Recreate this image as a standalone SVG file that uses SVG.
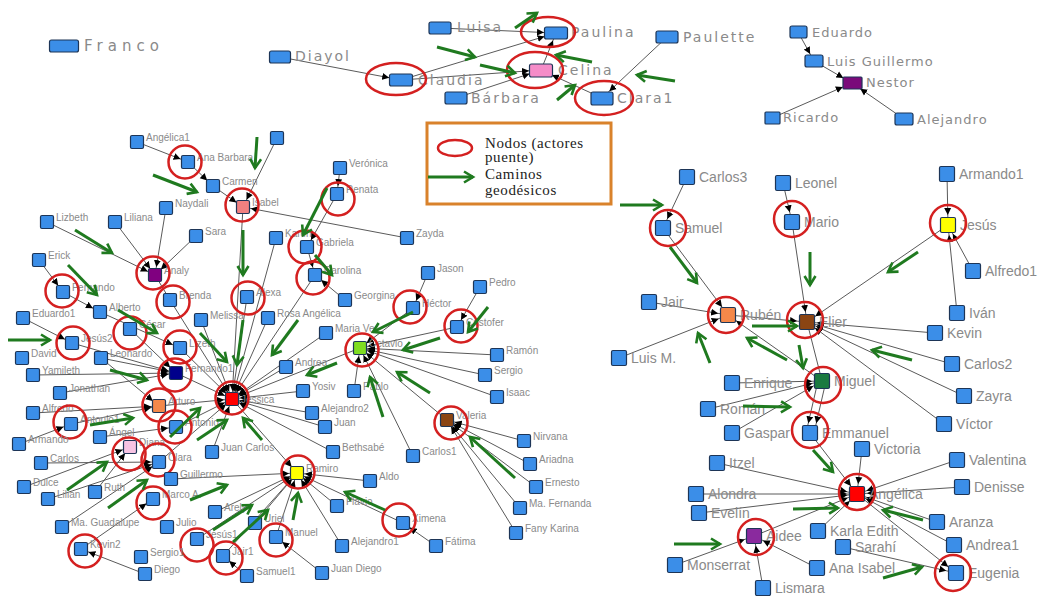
<svg xmlns="http://www.w3.org/2000/svg" width="1040" height="596" viewBox="0 0 1040 596">
<style>
.e{stroke:#5a5a5a;stroke-width:1;fill:none}
.e8{marker-end:url(#a8)}
.e10{marker-end:url(#a10)}
.e12{marker-end:url(#a12)}
.g{stroke:#1f7a1f;stroke-width:3;fill:none;marker-end:url(#gh)}
.b{fill:#3b8ee8;stroke:#1d3557;stroke-width:1.2}
.c{fill:none;stroke:#d42020;stroke-width:2.5}
.l{font-family:"Liberation Sans",Arial,sans-serif;font-size:10px;fill:#8a8a8a}
.r{font-family:"Liberation Sans",Arial,sans-serif;font-size:14px;fill:#8a8a8a}
.t{font-family:"DejaVu Sans",Verdana,sans-serif;font-size:14px;fill:#8a8a8a;letter-spacing:2px}
.t2{font-family:"DejaVu Sans",Verdana,sans-serif;font-size:13px;fill:#8a8a8a;letter-spacing:1px}
.lg{font-family:"Liberation Serif","Times New Roman",serif;font-size:15px;fill:#222;letter-spacing:0.6px}
</style>
<defs>
<marker id="a8" viewBox="0 0 16 8" refX="15" refY="4" markerWidth="16" markerHeight="8" orient="auto" markerUnits="userSpaceOnUse"><path d="M0,0.5 L7,4 L0,7.5z" fill="#000"/></marker>
<marker id="a10" viewBox="0 0 18 8" refX="17" refY="4" markerWidth="18" markerHeight="8" orient="auto" markerUnits="userSpaceOnUse"><path d="M0,0.5 L7,4 L0,7.5z" fill="#000"/></marker>
<marker id="a12" viewBox="0 0 20 8" refX="19" refY="4" markerWidth="20" markerHeight="8" orient="auto" markerUnits="userSpaceOnUse"><path d="M0,0.5 L7,4 L0,7.5z" fill="#000"/></marker>
<marker id="gh" viewBox="0 0 14 14" refX="11" refY="7" markerWidth="14" markerHeight="14" orient="auto" markerUnits="userSpaceOnUse"><path d="M2,1.5 L11,7 L2,12.5" fill="none" stroke="#1f7a1f" stroke-width="2.6"/></marker>
</defs>
<rect width="1040" height="596" fill="#fff"/>

<g id="connectors">
<!-- top -->
<line class="e e12" x1="280" y1="57" x2="401" y2="80"/>
<line class="e e12" x1="440" y1="28" x2="556" y2="33"/>
<line class="e e12" x1="401" y1="80" x2="556" y2="33"/>
<line class="e e12" x1="401" y1="80" x2="541" y2="70"/>
<line class="e e12" x1="456" y1="98" x2="541" y2="70"/>
<line class="e e8" x1="541" y1="70" x2="556" y2="33"/>
<line class="e e12" x1="602" y1="98" x2="541" y2="70"/>
<line class="e e10" x1="667" y1="37" x2="602" y2="98"/>
<line class="e e8" x1="798" y1="32" x2="814" y2="61"/>
<line class="e e10" x1="814" y1="61" x2="852" y2="83"/>
<line class="e e10" x1="772" y1="118" x2="852" y2="83"/>
<line class="e e10" x1="904" y1="119" x2="852" y2="83"/>
<!-- right cluster -->
<line class="e e10" x1="687" y1="177" x2="663" y2="228"/>
<line class="e e10" x1="663" y1="228" x2="728" y2="315"/>
<line class="e e10" x1="649" y1="302" x2="728" y2="315"/>
<line class="e e10" x1="619" y1="358" x2="728" y2="315"/>
<line class="e e10" x1="822" y1="381" x2="728" y2="315"/>
<line class="e e10" x1="728" y1="315" x2="807" y2="322"/>
<line class="e e10" x1="783" y1="183" x2="792" y2="222"/>
<line class="e e10" x1="792" y1="222" x2="807" y2="322"/>
<line class="e e10" x1="948" y1="225" x2="807" y2="322"/>
<line class="e e10" x1="947" y1="174" x2="948" y2="225"/>
<line class="e e10" x1="973" y1="271" x2="948" y2="225"/>
<line class="e e10" x1="957" y1="313" x2="948" y2="225"/>
<line class="e e10" x1="935" y1="333" x2="807" y2="322"/>
<line class="e e10" x1="952" y1="364" x2="807" y2="322"/>
<line class="e e10" x1="964" y1="396" x2="807" y2="322"/>
<line class="e e10" x1="944" y1="424" x2="807" y2="322"/>
<line class="e" x1="807" y1="322" x2="822" y2="381"/>
<line class="e e10" x1="732" y1="383" x2="822" y2="381"/>
<line class="e e10" x1="708" y1="409" x2="822" y2="381"/>
<line class="e e10" x1="732" y1="433" x2="822" y2="381"/>
<line class="e e10" x1="818" y1="381" x2="806" y2="433"/>
<line class="e e10" x1="826" y1="381" x2="814" y2="433"/>
<line class="e e10" x1="810" y1="433" x2="857" y2="494"/>
<line class="e e10" x1="862" y1="449" x2="857" y2="494"/>
<line class="e e10" x1="717" y1="463" x2="857" y2="494"/>
<line class="e e10" x1="696" y1="494" x2="857" y2="494"/>
<line class="e e10" x1="699" y1="513" x2="857" y2="494"/>
<line class="e e10" x1="754" y1="536" x2="857" y2="494"/>
<line class="e e10" x1="957" y1="460" x2="857" y2="494"/>
<line class="e e10" x1="962" y1="487" x2="857" y2="494"/>
<line class="e e10" x1="937" y1="522" x2="857" y2="494"/>
<line class="e e10" x1="954" y1="545" x2="857" y2="494"/>
<line class="e e10" x1="818" y1="531" x2="857" y2="494"/>
<line class="e e10" x1="857" y1="494" x2="956" y2="573"/>
<line class="e e10" x1="843" y1="547" x2="956" y2="573"/>
<line class="e e10" x1="817" y1="568" x2="754" y2="536"/>
<line class="e e10" x1="675" y1="565" x2="754" y2="536"/>
<line class="e e10" x1="763" y1="588" x2="754" y2="536"/>
<!-- left cluster -->
<line class="e e8" x1="137" y1="142" x2="188" y2="162"/>
<line class="e e8" x1="188" y1="162" x2="213" y2="186"/>
<line class="e e8" x1="213" y1="186" x2="243" y2="207"/>
<line class="e e8" x1="277" y1="138" x2="243" y2="207"/>
<line class="e e8" x1="407" y1="238" x2="243" y2="207"/>
<line class="e e8" x1="243" y1="207" x2="232" y2="399"/>
<line class="e e8" x1="340" y1="168" x2="337" y2="194"/>
<line class="e e8" x1="337" y1="194" x2="307" y2="247"/>
<line class="e e8" x1="307" y1="247" x2="315" y2="275"/>
<line class="e e8" x1="345" y1="300" x2="315" y2="275"/>
<line class="e e8" x1="276" y1="238" x2="232" y2="399"/>
<line class="e e8" x1="315" y1="275" x2="232" y2="399"/>
<line class="e e8" x1="247" y1="297" x2="232" y2="399"/>
<line class="e e8" x1="47" y1="222" x2="155" y2="275"/>
<line class="e e8" x1="115" y1="222" x2="155" y2="275"/>
<line class="e e8" x1="166" y1="208" x2="155" y2="275"/>
<line class="e e8" x1="196" y1="236" x2="155" y2="275"/>
<line class="e" x1="155" y1="275" x2="170" y2="300"/>
<line class="e e8" x1="170" y1="300" x2="232" y2="399"/>
<line class="e e8" x1="39" y1="260" x2="63" y2="292"/>
<line class="e e8" x1="63" y1="292" x2="100" y2="312"/>
<line class="e e8" x1="100" y1="312" x2="180" y2="348"/>
<line class="e e8" x1="23" y1="318" x2="72" y2="343"/>
<line class="e e8" x1="72" y1="343" x2="176" y2="373"/>
<line class="e e8" x1="101" y1="358" x2="176" y2="373"/>
<line class="e e8" x1="33" y1="375" x2="176" y2="373"/>
<line class="e e8" x1="60" y1="393" x2="176" y2="373"/>
<line class="e e8" x1="130" y1="329" x2="176" y2="373"/>
<line class="e e8" x1="180" y1="348" x2="232" y2="399"/>
<line class="e e8" x1="201" y1="320" x2="232" y2="399"/>
<line class="e e8" x1="176" y1="373" x2="232" y2="399"/>
<line class="e e8" x1="101" y1="358" x2="159" y2="406"/>
<line class="e e8" x1="33" y1="413" x2="159" y2="406"/>
<line class="e e8" x1="19" y1="444" x2="71" y2="424"/>
<line class="e e8" x1="71" y1="424" x2="159" y2="406"/>
<line class="e e8" x1="159" y1="406" x2="232" y2="399"/>
<line class="e e8" x1="176" y1="427" x2="232" y2="399"/>
<line class="e e8" x1="100" y1="437" x2="176" y2="427"/>
<line class="e e8" x1="159" y1="462" x2="232" y2="399"/>
<line class="e e8" x1="41" y1="463" x2="159" y2="462"/>
<line class="e e8" x1="24" y1="487" x2="130" y2="447"/>
<line class="e e8" x1="95" y1="492" x2="130" y2="447"/>
<line class="e e8" x1="48" y1="499" x2="159" y2="462"/>
<line class="e e8" x1="62" y1="527" x2="159" y2="462"/>
<line class="e e8" x1="81" y1="549" x2="153" y2="499"/>
<line class="e e8" x1="145" y1="574" x2="81" y2="549"/>
<line class="e e8" x1="171" y1="479" x2="297" y2="473"/>
<line class="e e8" x1="215" y1="512" x2="297" y2="473"/>
<line class="e e8" x1="197" y1="539" x2="297" y2="473"/>
<line class="e e8" x1="223" y1="556" x2="297" y2="473"/>
<line class="e e8" x1="247" y1="576" x2="223" y2="556"/>
<line class="e e8" x1="255" y1="523" x2="297" y2="473"/>
<line class="e e8" x1="276" y1="537" x2="297" y2="473"/>
<line class="e e8" x1="322" y1="573" x2="276" y2="537"/>
<line class="e e8" x1="342" y1="546" x2="297" y2="473"/>
<line class="e e8" x1="337" y1="506" x2="297" y2="473"/>
<line class="e e8" x1="370" y1="481" x2="297" y2="473"/>
<line class="e e8" x1="403" y1="523" x2="297" y2="473"/>
<line class="e e8" x1="436" y1="546" x2="403" y2="523"/>
<line class="e e8" x1="232" y1="399" x2="297" y2="473"/>
<line class="e e8" x1="212" y1="452" x2="232" y2="399"/>
<line class="e e8" x1="333" y1="452" x2="232" y2="399"/>
<line class="e e8" x1="268" y1="318" x2="232" y2="399"/>
<line class="e e8" x1="286" y1="367" x2="232" y2="399"/>
<line class="e e8" x1="303" y1="391" x2="232" y2="399"/>
<line class="e e8" x1="312" y1="413" x2="232" y2="399"/>
<line class="e e8" x1="325" y1="427" x2="232" y2="399"/>
<line class="e e8" x1="326" y1="333" x2="232" y2="399"/>
<line class="e e8" x1="360" y1="348" x2="232" y2="399"/>
<line class="e e8" x1="413" y1="308" x2="360" y2="348"/>
<line class="e e8" x1="428" y1="273" x2="413" y2="308"/>
<line class="e e8" x1="480" y1="287" x2="457" y2="327"/>
<line class="e e8" x1="457" y1="327" x2="360" y2="348"/>
<line class="e e8" x1="497" y1="355" x2="360" y2="348"/>
<line class="e e8" x1="485" y1="375" x2="360" y2="348"/>
<line class="e e8" x1="497" y1="397" x2="360" y2="348"/>
<line class="e e8" x1="354" y1="391" x2="360" y2="348"/>
<line class="e e8" x1="413" y1="456" x2="360" y2="348"/>
<line class="e e8" x1="447" y1="420" x2="360" y2="348"/>
<line class="e e8" x1="524" y1="441" x2="447" y2="420"/>
<line class="e e8" x1="530" y1="464" x2="447" y2="420"/>
<line class="e e8" x1="536" y1="487" x2="447" y2="420"/>
<line class="e e8" x1="520" y1="508" x2="447" y2="420"/>
<line class="e e8" x1="516" y1="533" x2="447" y2="420"/>
</g>

<!-- top nodes -->
<g id="n-franco"><rect class="b" x="49.5" y="40" width="29" height="12" rx="2"/><text class="t" x="84" y="51" style="font-size:15px;letter-spacing:5px">Franco</text></g>
<g id="n-diayol"><rect class="b" x="269.5" y="51" width="21" height="12" rx="2"/><text class="t" x="295" y="61">Diayol</text></g>
<g id="n-claudia"><rect class="b" x="389.5" y="74" width="23" height="12" rx="2"/><text class="t" x="418" y="85">Claudia</text><ellipse class="c" cx="396" cy="79" rx="30" ry="16"/></g>
<g id="n-luisa"><rect class="b" x="429" y="22" width="22" height="12" rx="2"/><text class="t" x="457" y="32">Luisa</text></g>
<g id="n-paulina"><rect class="b" x="544.5" y="27" width="23" height="12" rx="2"/><text class="t" x="571" y="37">Paulina</text><ellipse class="c" cx="548" cy="32" rx="27" ry="15"/></g>
<g id="n-celina"><rect class="b" x="529.5" y="64" width="23" height="13" rx="2" style="fill:#f58cc8"/><text class="t" x="558" y="75">Celina</text><ellipse class="c" cx="535" cy="70" rx="28" ry="18"/></g>
<g id="n-barbara"><rect class="b" x="445" y="92" width="22" height="12" rx="2"/><text class="t" x="471" y="103">Bárbara</text></g>
<g id="n-clara1"><rect class="b" x="591" y="92" width="22" height="13" rx="2"/><text class="t" x="617" y="103">Clara1</text><ellipse class="c" cx="604" cy="98" rx="29" ry="17"/></g>
<g id="n-paulette"><rect class="b" x="656" y="31" width="22" height="12" rx="2"/><text class="t" x="683" y="42">Paulette</text></g>
<g id="n-eduardo"><rect class="b" x="790" y="26" width="17" height="12" rx="2"/><text class="t2" x="812" y="37">Eduardo</text></g>
<g id="n-luisguillermo"><rect class="b" x="805" y="55" width="18" height="12" rx="2"/><text class="t2" x="827" y="66">Luis Guillermo</text></g>
<g id="n-nestor"><rect class="b" x="843" y="77" width="19" height="12" rx="1" style="fill:#7a0a7a"/><text class="t2" x="866" y="87">Nestor</text></g>
<g id="n-ricardo"><rect class="b" x="765" y="112" width="15" height="12" rx="1"/><text class="t2" x="783" y="122">Ricardo</text></g>
<g id="n-alejandro"><rect class="b" x="895" y="113" width="18" height="12" rx="2"/><text class="t2" x="917" y="124">Alejandro</text></g>

<!-- legend -->
<g id="legend">
<rect x="427" y="123" width="184" height="81" fill="#fff" stroke="#d9822b" stroke-width="3"/>
<ellipse cx="455" cy="148" rx="17" ry="8" fill="none" stroke="#d42020" stroke-width="2.5"/>
<line class="g" x1="428" y1="177" x2="473" y2="177"/>
<text class="lg" x="485" y="148">Nodos (actores</text>
<text class="lg" x="485" y="162">puente)</text>
<text class="lg" x="485" y="179">Caminos</text>
<text class="lg" x="485" y="195">geodésicos</text>
</g>

<!-- right cluster nodes -->
<g id="n-carlos3"><rect class="b" x="679.5" y="169.5" width="15" height="15" rx="1.5"/><text class="r" x="699" y="182">Carlos3</text></g>
<g id="n-samuel"><rect class="b" x="655.5" y="220.5" width="15" height="15" rx="1.5"/><text class="r" x="675" y="233">Samuel</text><circle class="c" cx="668" cy="228" r="18"/></g>
<g id="n-leonel"><rect class="b" x="775.5" y="175.5" width="15" height="15" rx="1.5"/><text class="r" x="795" y="188">Leonel</text></g>
<g id="n-mario"><rect class="b" x="784.5" y="214.5" width="15" height="15" rx="1.5"/><text class="r" x="804" y="227">Mario</text><circle class="c" cx="792" cy="219" r="18"/></g>
<g id="n-armando1"><rect class="b" x="939.5" y="166.5" width="15" height="15" rx="1.5"/><text class="r" x="959" y="179">Armando1</text></g>
<g id="n-jesus"><rect class="b" x="940.5" y="217.5" width="15" height="15" rx="1.5" style="fill:#ffff00"/><text class="r" x="960" y="230">Jesús</text><circle class="c" cx="948" cy="223" r="18"/></g>
<g id="n-alfredo1"><rect class="b" x="965.5" y="263.5" width="15" height="15" rx="1.5"/><text class="r" x="985" y="276">Alfredo1</text></g>
<g id="n-ivan"><rect class="b" x="949.5" y="305.5" width="15" height="15" rx="1.5"/><text class="r" x="969" y="318">Iván</text></g>
<g id="n-kevin"><rect class="b" x="927.5" y="325.5" width="15" height="15" rx="1.5"/><text class="r" x="947" y="338">Kevin</text></g>
<g id="n-carlos2"><rect class="b" x="944.5" y="356.5" width="15" height="15" rx="1.5"/><text class="r" x="964" y="369">Carlos2</text></g>
<g id="n-jair"><rect class="b" x="641.5" y="294.5" width="15" height="15" rx="1.5"/><text class="r" x="661" y="307">Jair</text></g>
<g id="n-ruben"><rect class="b" x="720.5" y="307.5" width="15" height="15" rx="1.5" style="fill:#f4884a"/><text class="r" x="740" y="320">Rubén</text><circle class="c" cx="726" cy="315" r="18"/></g>
<g id="n-luism"><rect class="b" x="611.5" y="350.5" width="15" height="15" rx="1.5"/><text class="r" x="631" y="363">Luis M.</text></g>
<g id="n-elier"><rect class="b" x="799.5" y="314.5" width="15" height="15" rx="1.5" style="fill:#8b4513"/><text class="r" x="819" y="327">Elier</text><circle class="c" cx="805" cy="320" r="18"/></g>
<g id="n-enrique"><rect class="b" x="724.5" y="375.5" width="15" height="15" rx="1.5"/><text class="r" x="744" y="388">Enrique</text></g>
<g id="n-miguel"><rect class="b" x="814.5" y="373.5" width="15" height="15" rx="1.5" style="fill:#1a7a40"/><text class="r" x="834" y="386">Miguel</text><circle class="c" cx="823" cy="385" r="18"/></g>
<g id="n-zayra"><rect class="b" x="956.5" y="388.5" width="15" height="15" rx="1.5"/><text class="r" x="976" y="401">Zayra</text></g>
<g id="n-roman"><rect class="b" x="700.5" y="401.5" width="15" height="15" rx="1.5"/><text class="r" x="720" y="414">Román</text></g>
<g id="n-victor"><rect class="b" x="936.5" y="416.5" width="15" height="15" rx="1.5"/><text class="r" x="956" y="429">Víctor</text></g>
<g id="n-gaspar"><rect class="b" x="724.5" y="425.5" width="15" height="15" rx="1.5"/><text class="r" x="744" y="438">Gaspar</text></g>
<g id="n-emmanuel"><rect class="b" x="802.5" y="425.5" width="15" height="15" rx="1.5"/><text class="r" x="822" y="438">Emmanuel</text><circle class="c" cx="810" cy="430" r="18"/></g>
<g id="n-victoria"><rect class="b" x="854.5" y="441.5" width="15" height="15" rx="1.5"/><text class="r" x="874" y="454">Victoria</text></g>
<g id="n-itzel"><rect class="b" x="709.5" y="455.5" width="15" height="15" rx="1.5"/><text class="r" x="729" y="468">Itzel</text></g>
<g id="n-valentina"><rect class="b" x="949.5" y="452.5" width="15" height="15" rx="1.5"/><text class="r" x="969" y="465">Valentina</text></g>
<g id="n-angelica"><rect class="b" x="849.5" y="486.5" width="15" height="15" rx="1.5" style="fill:#ff0000"/><text class="r" x="869" y="499">Angélica</text><circle class="c" cx="857" cy="492" r="18"/></g>
<g id="n-denisse"><rect class="b" x="954.5" y="479.5" width="15" height="15" rx="1.5"/><text class="r" x="974" y="492">Denisse</text></g>
<g id="n-alondra"><rect class="b" x="688.5" y="486.5" width="15" height="15" rx="1.5"/><text class="r" x="708" y="499">Alondra</text></g>
<g id="n-evelin"><rect class="b" x="691.5" y="505.5" width="15" height="15" rx="1.5"/><text class="r" x="711" y="518">Evelín</text></g>
<g id="n-aranza"><rect class="b" x="929.5" y="514.5" width="15" height="15" rx="1.5"/><text class="r" x="949" y="527">Aranza</text></g>
<g id="n-aidee"><rect class="b" x="746.5" y="528.5" width="15" height="15" rx="1.5" style="fill:#8a2a9e"/><text class="r" x="766" y="541">Aidee</text><circle class="c" cx="756" cy="537" r="18"/></g>
<g id="n-karla"><rect class="b" x="810.5" y="523.5" width="15" height="15" rx="1.5"/><text class="r" x="830" y="536">Karla Edith</text></g>
<g id="n-andrea1"><rect class="b" x="946.5" y="537.5" width="15" height="15" rx="1.5"/><text class="r" x="966" y="550">Andrea1</text></g>
<g id="n-sarahi"><rect class="b" x="835.5" y="539.5" width="15" height="15" rx="1.5"/><text class="r" x="855" y="552">Sarahí</text></g>
<g id="n-monserrat"><rect class="b" x="667.5" y="557.5" width="15" height="15" rx="1.5"/><text class="r" x="687" y="570">Monserrat</text></g>
<g id="n-anaisabel"><rect class="b" x="809.5" y="560.5" width="15" height="15" rx="1.5"/><text class="r" x="829" y="573">Ana Isabel</text></g>
<g id="n-eugenia"><rect class="b" x="948.5" y="565.5" width="15" height="15" rx="1.5"/><text class="r" x="968" y="578">Eugenia</text><circle class="c" cx="953" cy="573" r="18"/></g>
<g id="n-lismara"><rect class="b" x="755.5" y="580.5" width="15" height="15" rx="1.5"/><text class="r" x="775" y="593">Lismara</text></g>

<!-- left cluster nodes -->
<g id="n-angelica1"><rect class="b" x="130.5" y="135.5" width="13" height="13" rx="1.5"/><text class="l" x="146" y="141">Angélica1</text></g>
<g id="n-anabarbara"><rect class="b" x="181.5" y="155.5" width="13" height="13" rx="1.5"/><text class="l" x="197" y="161">Ana Barbara</text><circle class="c" cx="185" cy="162" r="16.5"/></g>
<g id="n-carmen"><rect class="b" x="206.5" y="179.5" width="13" height="13" rx="1.5"/><text class="l" x="222" y="185">Carmen</text></g>
<g id="n-top"><rect class="b" x="270.5" y="131.5" width="13" height="13" rx="1.5"/></g>
<g id="n-isabel"><rect class="b" x="236.5" y="200.5" width="13" height="13" rx="1.5" style="fill:#f08080"/><text class="l" x="252" y="206">Isabel</text><circle class="c" cx="242" cy="205" r="16.5"/></g>
<g id="n-naydali"><rect class="b" x="159.5" y="201.5" width="13" height="13" rx="1.5"/><text class="l" x="175" y="207">Naydali</text></g>
<g id="n-lizbeth"><rect class="b" x="40.5" y="215.5" width="13" height="13" rx="1.5"/><text class="l" x="56" y="221">Lizbeth</text></g>
<g id="n-liliana"><rect class="b" x="108.5" y="215.5" width="13" height="13" rx="1.5"/><text class="l" x="124" y="221">Liliana</text></g>
<g id="n-sara"><rect class="b" x="189.5" y="229.5" width="13" height="13" rx="1.5"/><text class="l" x="205" y="235">Sara</text></g>
<g id="n-erick"><rect class="b" x="32.5" y="253.5" width="13" height="13" rx="1.5"/><text class="l" x="48" y="259">Erick</text></g>
<g id="n-analy"><rect class="b" x="148.5" y="268.5" width="13" height="13" rx="1.5" style="fill:#800080"/><text class="l" x="164" y="274">Analy</text><circle class="c" cx="153" cy="273" r="16.5"/></g>
<g id="n-veronica"><rect class="b" x="333.5" y="161.5" width="13" height="13" rx="1.5"/><text class="l" x="349" y="167">Verónica</text></g>
<g id="n-renata"><rect class="b" x="330.5" y="187.5" width="13" height="13" rx="1.5"/><text class="l" x="346" y="193">Renata</text><circle class="c" cx="338" cy="199" r="16.5"/></g>
<g id="n-karen"><rect class="b" x="269.5" y="231.5" width="13" height="13" rx="1.5"/><text class="l" x="285" y="237">Karen</text></g>
<g id="n-gabriela"><rect class="b" x="300.5" y="240.5" width="13" height="13" rx="1.5"/><text class="l" x="316" y="246">Gabriela</text><circle class="c" cx="305" cy="247" r="16.5"/></g>
<g id="n-carolina"><rect class="b" x="308.5" y="268.5" width="13" height="13" rx="1.5"/><text class="l" x="324" y="274">Carolina</text><circle class="c" cx="313" cy="278" r="16.5"/></g>
<g id="n-zayda"><rect class="b" x="400.5" y="231.5" width="13" height="13" rx="1.5"/><text class="l" x="416" y="237">Zayda</text></g>
<g id="n-jason"><rect class="b" x="421.5" y="266.5" width="13" height="13" rx="1.5"/><text class="l" x="437" y="272">Jason</text></g>
<g id="n-fernando"><rect class="b" x="56.5" y="285.5" width="13" height="13" rx="1.5"/><text class="l" x="72" y="291">Fernando</text><circle class="c" cx="62" cy="291" r="16.5"/></g>
<g id="n-brenda"><rect class="b" x="163.5" y="293.5" width="13" height="13" rx="1.5"/><text class="l" x="179" y="299">Brenda</text><circle class="c" cx="173" cy="302" r="16.5"/></g>
<g id="n-alberto"><rect class="b" x="93.5" y="305.5" width="13" height="13" rx="1.5"/><text class="l" x="109" y="311">Alberto</text></g>
<g id="n-eduardo1"><rect class="b" x="16.5" y="311.5" width="13" height="13" rx="1.5"/><text class="l" x="32" y="317">Eduardo1</text></g>
<g id="n-melissa"><rect class="b" x="194.5" y="313.5" width="13" height="13" rx="1.5"/><text class="l" x="210" y="319">Melissa</text></g>
<g id="n-alexa"><rect class="b" x="240.5" y="290.5" width="13" height="13" rx="1.5"/><text class="l" x="256" y="296">Alexa</text><circle class="c" cx="248" cy="298" r="16.5"/></g>
<g id="n-rosa"><rect class="b" x="261.5" y="311.5" width="13" height="13" rx="1.5"/><text class="l" x="277" y="317">Rosa Angélica</text></g>
<g id="n-georgina"><rect class="b" x="338.5" y="293.5" width="13" height="13" rx="1.5"/><text class="l" x="354" y="299">Georgina</text></g>
<g id="n-hector"><rect class="b" x="406.5" y="301.5" width="13" height="13" rx="1.5"/><text class="l" x="422" y="307">Héctor</text><circle class="c" cx="410" cy="307" r="16.5"/></g>
<g id="n-pedro"><rect class="b" x="473.5" y="280.5" width="13" height="13" rx="1.5"/><text class="l" x="489" y="286">Pedro</text></g>
<g id="n-cristofer"><rect class="b" x="450.5" y="320.5" width="13" height="13" rx="1.5"/><text class="l" x="466" y="326">Cristofer</text><circle class="c" cx="461" cy="326" r="16.5"/></g>
<g id="n-cesar"><rect class="b" x="123.5" y="322.5" width="13" height="13" rx="1.5"/><text class="l" x="139" y="328">César</text><circle class="c" cx="130" cy="333" r="16.5"/></g>
<g id="n-jesus2"><rect class="b" x="65.5" y="336.5" width="13" height="13" rx="1.5"/><text class="l" x="81" y="342">Jesús2</text><circle class="c" cx="73" cy="343" r="16.5"/></g>
<g id="n-lizeth"><rect class="b" x="173.5" y="341.5" width="13" height="13" rx="1.5"/><text class="l" x="189" y="347">Lizeth</text><circle class="c" cx="180" cy="347" r="16.5"/></g>
<g id="n-maria"><rect class="b" x="319.5" y="326.5" width="13" height="13" rx="1.5"/><text class="l" x="335" y="332">Maria Ve</text></g>
<g id="n-david"><rect class="b" x="15.5" y="351.5" width="13" height="13" rx="1.5"/><text class="l" x="31" y="357">David</text></g>
<g id="n-leonardo"><rect class="b" x="94.5" y="351.5" width="13" height="13" rx="1.5"/><text class="l" x="110" y="357">Leonardo</text></g>
<g id="n-octavio"><rect class="b" x="353.5" y="341.5" width="13" height="13" rx="1.5" style="fill:#7fdd22"/><text class="l" x="369" y="347">Octavio</text><circle class="c" cx="362" cy="350" r="16.5"/></g>
<g id="n-ramon"><rect class="b" x="490.5" y="348.5" width="13" height="13" rx="1.5"/><text class="l" x="506" y="354">Ramón</text></g>
<g id="n-andrea"><rect class="b" x="279.5" y="360.5" width="13" height="13" rx="1.5"/><text class="l" x="295" y="366">Andrea</text></g>
<g id="n-yamileth"><rect class="b" x="26.5" y="368.5" width="13" height="13" rx="1.5"/><text class="l" x="42" y="374">Yamileth</text></g>
<g id="n-fernando1"><rect class="b" x="169.5" y="366.5" width="13" height="13" rx="1.5" style="fill:#00008b"/><text class="l" x="185" y="372">Fernando1</text><circle class="c" cx="175" cy="375" r="16.5"/></g>
<g id="n-sergio"><rect class="b" x="478.5" y="368.5" width="13" height="13" rx="1.5"/><text class="l" x="494" y="374">Sergio</text></g>
<g id="n-jonathan"><rect class="b" x="53.5" y="386.5" width="13" height="13" rx="1.5"/><text class="l" x="69" y="392">Jonathan</text></g>
<g id="n-yosiv"><rect class="b" x="296.5" y="384.5" width="13" height="13" rx="1.5"/><text class="l" x="312" y="390">Yosiv</text></g>
<g id="n-pablo"><rect class="b" x="347.5" y="384.5" width="13" height="13" rx="1.5"/><text class="l" x="363" y="390">Pablo</text></g>
<g id="n-isaac"><rect class="b" x="490.5" y="390.5" width="13" height="13" rx="1.5"/><text class="l" x="506" y="396">Isaac</text></g>
<g id="n-jessica"><rect class="b" x="225.5" y="392.5" width="13" height="13" rx="1.5" style="fill:#ff0000"/><text class="l" x="241" y="403">Jessica</text><circle class="c" cx="232" cy="398" r="16.5"/></g>
<g id="n-arturo"><rect class="b" x="152.5" y="399.5" width="13" height="13" rx="1.5" style="fill:#f4884a"/><text class="l" x="168" y="405">Arturo</text><circle class="c" cx="159" cy="405" r="16.5"/></g>
<g id="n-alfredo"><rect class="b" x="26.5" y="406.5" width="13" height="13" rx="1.5"/><text class="l" x="42" y="412">Alfredo</text></g>
<g id="n-alejandro2"><rect class="b" x="305.5" y="406.5" width="13" height="13" rx="1.5"/><text class="l" x="321" y="412">Alejandro2</text></g>
<g id="n-valeria"><rect class="b" x="440.5" y="413.5" width="13" height="13" rx="1.5" style="fill:#8b4513"/><text class="l" x="456" y="419">Valeria</text><circle class="c" cx="451" cy="423" r="16.5"/></g>
<g id="n-antonio1"><rect class="b" x="64.5" y="417.5" width="13" height="13" rx="1.5"/><text class="l" x="80" y="423">Antonio1</text><circle class="c" cx="70" cy="422" r="16.5"/></g>
<g id="n-antonio"><rect class="b" x="169.5" y="420.5" width="13" height="13" rx="1.5"/><text class="l" x="185" y="426">Antonio</text><circle class="c" cx="175" cy="427" r="16.5"/></g>
<g id="n-juan"><rect class="b" x="318.5" y="420.5" width="13" height="13" rx="1.5"/><text class="l" x="334" y="426">Juan</text></g>
<g id="n-angel"><rect class="b" x="93.5" y="430.5" width="13" height="13" rx="1.5"/><text class="l" x="109" y="436">Ángel</text></g>
<g id="n-armando"><rect class="b" x="12.5" y="437.5" width="13" height="13" rx="1.5"/><text class="l" x="28" y="443">Armando</text></g>
<g id="n-diana"><rect class="b" x="123.5" y="440.5" width="13" height="13" rx="1.5" style="fill:#f7c3e3"/><text class="l" x="139" y="446">Diana</text><circle class="c" cx="129" cy="454" r="16.5"/></g>
<g id="n-nirvana"><rect class="b" x="517.5" y="434.5" width="13" height="13" rx="1.5"/><text class="l" x="533" y="440">Nirvana</text></g>
<g id="n-juancarlos"><rect class="b" x="205.5" y="445.5" width="13" height="13" rx="1.5"/><text class="l" x="221" y="451">Juan Carlos</text></g>
<g id="n-bethsabe"><rect class="b" x="326.5" y="445.5" width="13" height="13" rx="1.5"/><text class="l" x="342" y="451">Bethsabé</text></g>
<g id="n-carlos1"><rect class="b" x="406.5" y="449.5" width="13" height="13" rx="1.5"/><text class="l" x="422" y="455">Carlos1</text></g>
<g id="n-clara"><rect class="b" x="152.5" y="455.5" width="13" height="13" rx="1.5"/><text class="l" x="168" y="461">Clara</text><circle class="c" cx="158" cy="460" r="16.5"/></g>
<g id="n-carlos"><rect class="b" x="34.5" y="456.5" width="13" height="13" rx="1.5"/><text class="l" x="50" y="462">Carlos</text></g>
<g id="n-ariadna"><rect class="b" x="523.5" y="457.5" width="13" height="13" rx="1.5"/><text class="l" x="539" y="463">Ariadna</text></g>
<g id="n-ramiro"><rect class="b" x="290.5" y="466.5" width="13" height="13" rx="1.5" style="fill:#ffff00"/><text class="l" x="306" y="472">Ramiro</text><circle class="c" cx="298" cy="472" r="16.5"/></g>
<g id="n-guillermo"><rect class="b" x="164.5" y="472.5" width="13" height="13" rx="1.5"/><text class="l" x="180" y="478">Guillermo</text></g>
<g id="n-aldo"><rect class="b" x="363.5" y="474.5" width="13" height="13" rx="1.5"/><text class="l" x="379" y="480">Aldo</text></g>
<g id="n-dulce"><rect class="b" x="17.5" y="480.5" width="13" height="13" rx="1.5"/><text class="l" x="33" y="486">Dulce</text></g>
<g id="n-ernesto"><rect class="b" x="529.5" y="480.5" width="13" height="13" rx="1.5"/><text class="l" x="545" y="486">Ernesto</text></g>
<g id="n-ruth"><rect class="b" x="88.5" y="485.5" width="13" height="13" rx="1.5"/><text class="l" x="104" y="491">Ruth</text></g>
<g id="n-lilian"><rect class="b" x="41.5" y="492.5" width="13" height="13" rx="1.5"/><text class="l" x="57" y="498">Lilian</text></g>
<g id="n-marco"><rect class="b" x="146.5" y="492.5" width="13" height="13" rx="1.5"/><text class="l" x="162" y="498">Marco A.</text><circle class="c" cx="153" cy="503" r="16.5"/></g>
<g id="n-flavio"><rect class="b" x="330.5" y="499.5" width="13" height="13" rx="1.5"/><text class="l" x="346" y="505">Flavio</text></g>
<g id="n-mafernanda"><rect class="b" x="513.5" y="501.5" width="13" height="13" rx="1.5"/><text class="l" x="529" y="507">Ma. Fernanda</text></g>
<g id="n-arely"><rect class="b" x="208.5" y="505.5" width="13" height="13" rx="1.5"/><text class="l" x="224" y="511">Arely</text></g>
<g id="n-ximena"><rect class="b" x="396.5" y="516.5" width="13" height="13" rx="1.5"/><text class="l" x="412" y="522">Ximena</text><circle class="c" cx="399" cy="520" r="16.5"/></g>
<g id="n-uriel"><rect class="b" x="248.5" y="516.5" width="13" height="13" rx="1.5"/><text class="l" x="264" y="522">Uriel</text></g>
<g id="n-maguadalupe"><rect class="b" x="55.5" y="520.5" width="13" height="13" rx="1.5"/><text class="l" x="71" y="526">Ma. Guadalupe</text></g>
<g id="n-julio"><rect class="b" x="160.5" y="520.5" width="13" height="13" rx="1.5"/><text class="l" x="176" y="526">Julio</text></g>
<g id="n-fanykarina"><rect class="b" x="509.5" y="526.5" width="13" height="13" rx="1.5"/><text class="l" x="525" y="532">Fany Karina</text></g>
<g id="n-manuel"><rect class="b" x="269.5" y="530.5" width="13" height="13" rx="1.5"/><text class="l" x="285" y="536">Manuel</text><circle class="c" cx="276" cy="540" r="16.5"/></g>
<g id="n-jesus1"><rect class="b" x="190.5" y="532.5" width="13" height="13" rx="1.5"/><text class="l" x="206" y="538">Jesús1</text><circle class="c" cx="197" cy="545" r="16.5"/></g>
<g id="n-fatima"><rect class="b" x="429.5" y="539.5" width="13" height="13" rx="1.5"/><text class="l" x="445" y="545">Fátima</text></g>
<g id="n-alejandro1"><rect class="b" x="335.5" y="539.5" width="13" height="13" rx="1.5"/><text class="l" x="351" y="545">Alejandro1</text></g>
<g id="n-kevin2"><rect class="b" x="74.5" y="542.5" width="13" height="13" rx="1.5"/><text class="l" x="90" y="548">Kevin2</text><circle class="c" cx="85" cy="551" r="16.5"/></g>
<g id="n-jair1"><rect class="b" x="216.5" y="549.5" width="13" height="13" rx="1.5"/><text class="l" x="232" y="555">Jair1</text><circle class="c" cx="226" cy="558" r="16.5"/></g>
<g id="n-sergio1"><rect class="b" x="134.5" y="550.5" width="13" height="13" rx="1.5"/><text class="l" x="150" y="556">Sergio1</text></g>
<g id="n-juandiego"><rect class="b" x="315.5" y="566.5" width="13" height="13" rx="1.5"/><text class="l" x="331" y="572">Juan Diego</text></g>
<g id="n-diego"><rect class="b" x="138.5" y="567.5" width="13" height="13" rx="1.5"/><text class="l" x="154" y="573">Diego</text></g>
<g id="n-samuel1"><rect class="b" x="240.5" y="569.5" width="13" height="13" rx="1.5"/><text class="l" x="256" y="575">Samuel1</text></g>

<g id="geodesic-paths">
<line class="g" x1="515" y1="28" x2="537" y2="13"/>
<line class="g" x1="437" y1="47" x2="475" y2="57"/>
<line class="g" x1="480" y1="65" x2="515" y2="73"/>
<line class="g" x1="592" y1="62" x2="556" y2="55"/>
<line class="g" x1="675" y1="81" x2="637" y2="75"/>
<line class="g" x1="557" y1="100" x2="575" y2="85"/>
<line class="g" x1="620" y1="205" x2="662" y2="205"/>
<line class="g" x1="670" y1="247" x2="697" y2="283"/>
<line class="g" x1="810" y1="252" x2="810" y2="285"/>
<line class="g" x1="918" y1="252" x2="888" y2="272"/>
<line class="g" x1="752" y1="326" x2="797" y2="326"/>
<line class="g" x1="799" y1="345" x2="803" y2="368"/>
<line class="g" x1="787" y1="360" x2="747" y2="338"/>
<line class="g" x1="710" y1="363" x2="698" y2="333"/>
<line class="g" x1="912" y1="360" x2="872" y2="350"/>
<line class="g" x1="743" y1="406" x2="790" y2="407"/>
<line class="g" x1="813" y1="450" x2="833" y2="472"/>
<line class="g" x1="793" y1="509" x2="838" y2="508"/>
<line class="g" x1="923" y1="520" x2="883" y2="510"/>
<line class="g" x1="674" y1="544" x2="720" y2="544"/>
<line class="g" x1="883" y1="578" x2="922" y2="567"/>
<line class="g" x1="257" y1="137" x2="255" y2="168"/>
<line class="g" x1="153" y1="175" x2="197" y2="192"/>
<line class="g" x1="243" y1="230" x2="243" y2="275"/>
<line class="g" x1="327" y1="188" x2="303" y2="235"/>
<line class="g" x1="315" y1="255" x2="332" y2="275"/>
<line class="g" x1="75" y1="230" x2="112" y2="253"/>
<line class="g" x1="68" y1="265" x2="97" y2="295"/>
<line class="g" x1="118" y1="310" x2="157" y2="333"/>
<line class="g" x1="200" y1="333" x2="227" y2="362"/>
<line class="g" x1="8" y1="340" x2="50" y2="340"/>
<line class="g" x1="110" y1="370" x2="147" y2="380"/>
<line class="g" x1="90" y1="425" x2="133" y2="418"/>
<line class="g" x1="170" y1="437" x2="200" y2="408"/>
<line class="g" x1="197" y1="440" x2="227" y2="420"/>
<line class="g" x1="243" y1="320" x2="237" y2="365"/>
<line class="g" x1="298" y1="320" x2="272" y2="355"/>
<line class="g" x1="337" y1="363" x2="307" y2="375"/>
<line class="g" x1="413" y1="312" x2="373" y2="332"/>
<line class="g" x1="488" y1="307" x2="468" y2="332"/>
<line class="g" x1="440" y1="338" x2="403" y2="350"/>
<line class="g" x1="430" y1="393" x2="397" y2="372"/>
<line class="g" x1="383" y1="417" x2="370" y2="377"/>
<line class="g" x1="515" y1="478" x2="470" y2="437"/>
<line class="g" x1="262" y1="440" x2="243" y2="418"/>
<line class="g" x1="67" y1="490" x2="107" y2="462"/>
<line class="g" x1="108" y1="508" x2="147" y2="480"/>
<line class="g" x1="190" y1="500" x2="227" y2="485"/>
<line class="g" x1="213" y1="530" x2="252" y2="505"/>
<line class="g" x1="233" y1="542" x2="268" y2="510"/>
<line class="g" x1="293" y1="520" x2="298" y2="493"/>
<line class="g" x1="385" y1="510" x2="345" y2="492"/>
</g>
</svg>
